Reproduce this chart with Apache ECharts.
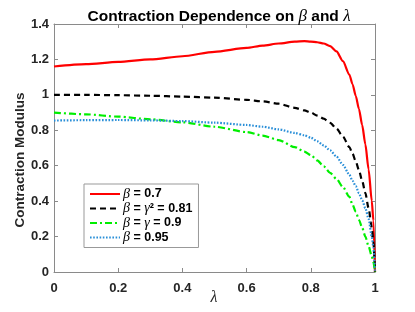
<!DOCTYPE html>
<html>
<head>
<meta charset="utf-8">
<script src="https://cdn.jsdelivr.net/npm/echarts@6/dist/echarts.min.js"></script>
<style>html,body{margin:0;padding:0;background:#fff}#c{width:415px;height:312px}</style>
</head>
<body>
<div id="c"></div>
<script>
// ---- data ----
var lambda = [0, 0.1, 0.2, 0.3, 0.4, 0.5, 0.6, 0.65, 0.7, 0.75, 0.78, 0.8, 0.82, 0.84, 0.86, 0.88, 0.9, 0.92, 0.93, 0.94, 0.95, 0.96, 0.97, 0.98, 0.99, 0.995, 1];
var beta07  = [1.16, 1.173, 1.186, 1.2, 1.218, 1.243, 1.265, 1.278, 1.29, 1.30, 1.303, 1.301, 1.297, 1.29, 1.275, 1.245, 1.19, 1.115, 1.06, 0.995, 0.92, 0.83, 0.72, 0.58, 0.40, 0.29, 0];
var beta081 = [1.0, 1.0, 0.998, 0.995, 0.99, 0.984, 0.972, 0.963, 0.95, 0.927, 0.912, 0.9, 0.883, 0.866, 0.842, 0.81, 0.765, 0.705, 0.668, 0.625, 0.575, 0.515, 0.445, 0.36, 0.25, 0.17, 0];
var beta09  = [0.90, 0.89, 0.877, 0.862, 0.845, 0.82, 0.79, 0.77, 0.745, 0.705, 0.68, 0.66, 0.63, 0.597, 0.56, 0.525, 0.48, 0.425, 0.38, 0.34, 0.295, 0.25, 0.2, 0.145, 0.09, 0.055, 0];
var beta095 = [0.855, 0.857, 0.858, 0.856, 0.852, 0.843, 0.83, 0.82, 0.805, 0.785, 0.772, 0.758, 0.738, 0.715, 0.687, 0.652, 0.605, 0.55, 0.515, 0.485, 0.445, 0.405, 0.36, 0.3, 0.2, 0.14, 0];
var seriesNames = ['{g|β} = 0.7', '{g|β} = {g|γ}² = 0.81', '{g|β} = {g|γ} = 0.9', '{g|β} = 0.95'];
var xTickLabels = ['0', '0.2', '0.4', '0.6', '0.8', '1'];
var yTickLabels = ['0', '0.2', '0.4', '0.6', '0.8', '1', '1.2', '1.4'];

function pairs(vals){ return lambda.map(function(x,i){ return [x, vals[i]]; }); }

var axisGray = '#8a8a8a';
var labelCol = '#262626';
var sansFam = 'Liberation Sans, Arial, sans-serif';
var serifFam = 'Liberation Serif, DejaVu Serif, serif';

function baseX(pos, show){
  return {
    type:'value', min:0, max:1, interval:0.2, position:pos,
    axisLine:{show:true, onZero:false, lineStyle:{color:axisGray, width:1}},
    axisTick:{show:true, inside:true, length:4, lineStyle:{color:axisGray}},
    splitLine:{show:false},
    axisLabel:{show:show, margin:10, fontFamily:sansFam, fontWeight:'bold', fontSize:13, color:labelCol,
      formatter:function(v){ return xTickLabels[Math.round(v/0.2)]; }}
  };
}
function baseY(pos, show){
  return {
    type:'value', min:0, max:1.4, interval:0.2, position:pos,
    axisLine:{show:true, onZero:false, lineStyle:{color:axisGray, width:1}},
    axisTick:{show:true, inside:true, length:4, lineStyle:{color:axisGray}},
    splitLine:{show:false},
    axisLabel:{show:show, margin:5, fontFamily:sansFam, fontWeight:'bold', fontSize:13, color:labelCol,
      formatter:function(v){ return yTickLabels[Math.round(v/0.2)]; }}
  };
}

var colors = ['#ff0000', '#000000', '#00ee00', '#2a8fd8'];
var dashes = ['solid', [6,4], [7,3,2,3], [1.6,1.6]];
var values = [beta07, beta081, beta09, beta095];

var series = values.map(function(v,i){
  return {
    name: seriesNames[i], type:'line', xAxisIndex:0, yAxisIndex:0,
    data: pairs(v), symbol:'none', smooth:0.25, smoothMonotone:'x',
    lineStyle:{color:colors[i], width:2.2, type:dashes[i]},
    itemStyle:{color:colors[i]}, z: 2+i
  };
});

var chart = echarts.init(document.getElementById('c'), null, {renderer:'canvas'});
chart.setOption({
  animation:false,
  backgroundColor:'#fff',
  title:{
    text:'Contraction Dependence on {g|β} and {g|λ}',
    left:214, top:3, textAlign:'center',
    textStyle:{fontFamily:sansFam, fontWeight:'bold', fontSize:15.5, color:'#000',
      rich:{g:{fontFamily:serifFam, fontStyle:'italic', fontWeight:'normal', fontSize:17, color:'#000'}}}
  },
  grid:{left:54, right:40, top:24, bottom:40, containLabel:false},
  xAxis:[baseX('bottom', true), baseX('top', false)],
  yAxis:[baseY('left', true), baseY('right', false)],
  legend:{
    orient:'vertical', left:84, top:184, itemWidth:30, itemHeight:8, itemGap:0.5,
    padding:[3,6,3,5], borderColor:'#999', borderWidth:1, backgroundColor:'#fff',
    itemStyle:{opacity:0},
    data: seriesNames,
    textStyle:{fontFamily:sansFam, fontWeight:'bold', fontSize:12.5, color:'#000', padding:[0,0,0,-2],
      rich:{g:{fontFamily:serifFam, fontStyle:'italic', fontWeight:'normal', fontSize:14, color:'#000'}}}
  },
  graphic:[
    {type:'text', x:20, y:160, rotation:Math.PI/2, style:{text:'Contraction Modulus', x:0, y:0,
      fill:'#262626', font:'bold 13.5px Liberation Sans, Arial, sans-serif', textAlign:'center', textVerticalAlign:'middle'}},
    {type:'text', x:214, y:298, style:{text:'λ', fill:'#262626', font:'italic 16px Liberation Serif, DejaVu Serif, serif',
      textAlign:'center', textVerticalAlign:'middle'}}
  ],
  series: series
});
</script>
</body>
</html>
